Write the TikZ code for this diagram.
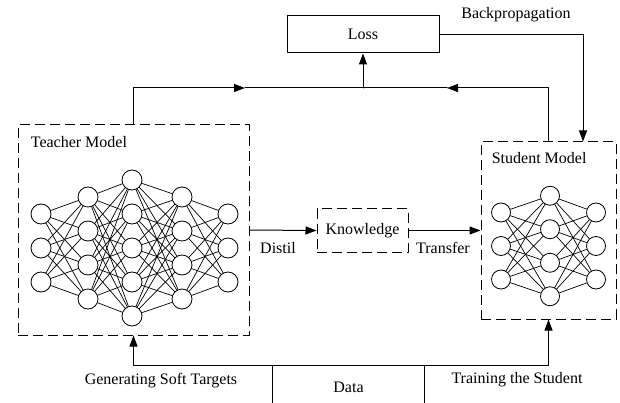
\documentclass[tikz,border=0pt]{standalone}
\usepackage{fontspec}
\setmainfont{Liberation Serif}
\usetikzlibrary{arrows.meta}

\begin{document}
\begin{tikzpicture}[line cap=round,line join=round,>={Triangle[length=11pt,width=8pt]},x=1pt,y=-1pt,line width=1pt,
        font=\fontsize{16}{19}\selectfont,
        dashbox/.style={draw,dash pattern=on 10pt off 5pt,line cap=butt},
        plainbox/.style={draw},
        neuron/.style={circle,draw,fill=white,line width=0.8pt,minimum size=#1,inner sep=0pt},
        link/.style={line width=0.7pt}]
        \useasboundingbox (0,0) rectangle (620,403);

        % boxes and labels
        \node [dashbox,minimum width=231pt,minimum height=210pt] (teacher) at (133.5,230) {};
        \node [dashbox,minimum width=135pt,minimum height=177pt] (student) at (548.5,230.5) {};
        \node [anchor=west] (tname) at (27,142) {Teacher Model};
        \node [anchor=west] (sname) at (488,158) {Student Model};
        \node [plainbox,minimum width=152pt,minimum height=37pt] (loss) at (363,34.5) {Loss};
        \node (bplabel) at (516,15) {Backpropagation};
        \node [dashbox,minimum width=91pt,minimum height=43pt] (know) at (362.5,230.5) {Knowledge};
        \node (distil) at (278,248) {Distil};
        \node (transfer) at (443,248) {Transfer};
        \node [minimum width=151pt,minimum height=42pt] (data) at (348.5,387) {Data};
        \node (gen) at (161,381) {Generating Soft Targets};
        \node (train) at (517,380) {Training the Student};

        % teacher network
        \foreach \l/\x/\n in {1/41/3,2/88/4,3/132/5,4/182/4,5/228/3}
          \foreach \i in {1,...,\n}
            \node [neuron=20pt] (t\l\i) at (\x,{248+(\i-(\n+1)/2)*34}) {};
        \foreach \l/\n/\m in {1/3/4,2/4/5,3/5/4,4/4/3}{
          \pgfmathtruncatemacro\nxt{\l+1}
          \foreach \i in {1,...,\n}
            \foreach \j in {1,...,\m}
              \draw [link] (t\l\i) -- (t\nxt\j);
        }

        % student network
        \foreach \l/\x/\n in {1/501/3,2/550/4,3/596/3}
          \foreach \i in {1,...,\n}
            \node [neuron=19pt] (s\l\i) at (\x,{246+(\i-(\n+1)/2)*33.5}) {};
        \foreach \l/\n/\m in {1/3/4,2/4/3}{
          \pgfmathtruncatemacro\nxt{\l+1}
          \foreach \i in {1,...,\n}
            \foreach \j in {1,...,\m}
              \draw [link] (s\l\i) -- (s\nxt\j);
        }

        % connectors
        \coordinate (join) at (363,88);
        \coordinate (tmid) at (245,88);
        \coordinate (smid) at (447,88);
        \coordinate (bp) at (583,0);
        \draw [->] (teacher.north) |- (tmid);
        \draw (tmid) -- (join);
        \draw [->] (student.north) |- (smid);
        \draw (smid) -- (join);
        \draw [->] (join) -- (loss.south);
        \draw [->] (loss.east) -| (student.north -| bp);
        \draw [->] (teacher.east) -- (know.west);
        \draw [->] (know.east) -- (student.west);
        \draw [->] (data.north) -| (teacher.south);
        \draw [->] (data.north) -| (student.south);
        \draw (data.south west) -- (data.north west);
        \draw (data.south east) -- (data.north east);
\end{tikzpicture}
\end{document}
